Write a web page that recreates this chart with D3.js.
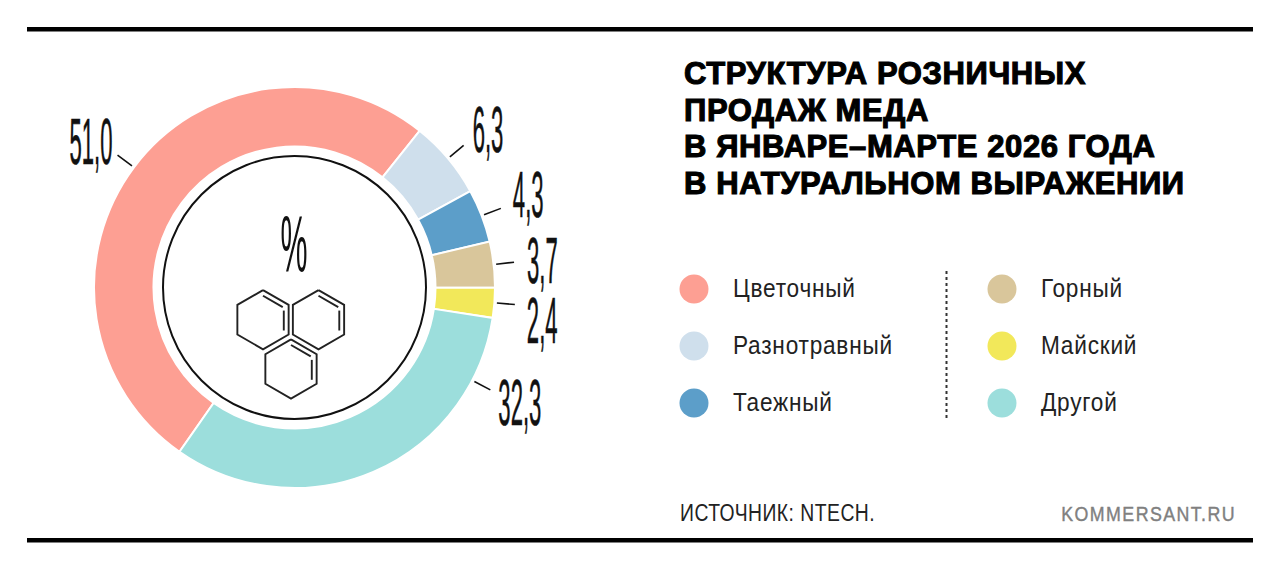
<!DOCTYPE html>
<html lang="ru">
<head>
<meta charset="utf-8">
<script src="https://cdn.jsdelivr.net/npm/d3@7"></script>
<style>
  html, body { margin: 0; padding: 0; background: #fff; }
  svg { display: block; }
  text { font-family: "Liberation Sans", sans-serif; }
</style>
</head>
<body>
<svg id="chart" width="1280" height="569"></svg>
<script>
var categories = ["Цветочный", "Разнотравный", "Таежный", "Горный", "Майский", "Другой"],
    shares = [51.0, 6.3, 4.3, 3.7, 2.4, 32.3],
    shareLabels = ["51,0", "6,3", "4,3", "3,7", "2,4", "32,3"],
    colors = ["#fd9f93", "#cfdfec", "#5c9ec9", "#d9c69b", "#f2e85a", "#9cdedc"];

var titleLines = ["СТРУКТУРА РОЗНИЧНЫХ", "ПРОДАЖ МЕДА", "В ЯНВАРЕ–МАРТЕ 2026 ГОДА", "В НАТУРАЛЬНОМ ВЫРАЖЕНИИ"];

var svg = d3.select("#chart");
var rad = (a) => a * Math.PI / 180;

// top and bottom rules
svg.selectAll("rect.rule")
  .data([27, 538])
  .enter()
  .append("rect")
  .attr("class", "rule")
  .attr("x", 27)
  .attr("y", (d) => d)
  .attr("width", 1226)
  .attr("height", 4.5)
  .attr("fill", "#000");

// donut
var cx = 294.5, cy = 287.5, rOuter = 200.5, rInner = 141, rCircle = 131.5;
var donut = svg.append("g").attr("transform", `translate(${cx},${cy})`);

var pie = d3.pie()
  .sort(null)
  .startAngle(rad(-145))
  .endAngle(rad(215))(shares);

var arc = d3.arc().innerRadius(rInner).outerRadius(rOuter);

donut.selectAll("path.slice")
  .data(pie)
  .enter()
  .append("path")
  .attr("class", "slice")
  .attr("d", arc)
  .attr("fill", (d, i) => colors[i])
  .attr("stroke", "#fff")
  .attr("stroke-width", 2);

donut.append("circle")
  .attr("r", rCircle)
  .attr("fill", "none")
  .attr("stroke", "#111")
  .attr("stroke-width", 2);

// leaders: radial at slice middle, the big teal slice has its leader moved up
var leaderAngle = (d, i) => i == 5 ? rad(117.6) : (d.startAngle + d.endAngle) / 2;
var polar = (a, r) => [r * Math.sin(a), -r * Math.cos(a)];

donut.selectAll("line.leader")
  .data(pie)
  .enter()
  .append("line")
  .attr("class", "leader")
  .attr("x1", (d, i) => polar(leaderAngle(d, i), 203)[0])
  .attr("y1", (d, i) => polar(leaderAngle(d, i), 203)[1])
  .attr("x2", (d, i) => polar(leaderAngle(d, i), 221)[0])
  .attr("y2", (d, i) => polar(leaderAngle(d, i), 221)[1])
  .attr("stroke", "#111")
  .attr("stroke-width", 1.6);

// tall condensed value labels, nudged off the leader ends
var labelShift = [[-5, 9], [9, 7], [12, 9], [13, 21], [12, 39], [8, 35]];

donut.selectAll("text.value")
  .data(pie)
  .enter()
  .append("text")
  .attr("class", "value")
  .attr("text-anchor", (d, i) => i == 0 ? "end" : "start")
  .attr("transform", function(d, i) {
    var p = polar(leaderAngle(d, i), 221);
    return `translate(${p[0] + labelShift[i][0]},${p[1] + labelShift[i][1]}) scale(0.34,1)`;
  })
  .attr("font-size", 65)
  .attr("fill", "#111")
  .attr("stroke", "#111")
  .attr("stroke-width", 0.6)
  .text((d, i) => shareLabels[i]);

// percent sign
svg.append("text")
  .attr("text-anchor", "middle")
  .attr("transform", "translate(294,272) scale(0.38,1)")
  .attr("font-size", 80)
  .attr("fill", "#111")
  .text("%");

// honeycomb icon
var cells = [[263, 319.7], [318.5, 319.7], [291, 369]];
var hexR = 29.6, hexInset = 24;
var hexLine = d3.line();
var corner = (c, r, k) => {
  var a = rad(60 * k);
  return [c[0] + r * Math.sin(a), c[1] - r * Math.cos(a)];
};
var along = (p, q, t) => [p[0] + (q[0] - p[0]) * t, p[1] + (q[1] - p[1]) * t];

var icon = svg.append("g")
  .attr("fill", "none")
  .attr("stroke", "#222")
  .attr("stroke-width", 1.9);

cells.forEach((c) => {
  var a = corner(c, hexInset, 0), b = corner(c, hexInset, 1), e = corner(c, hexInset, 2);
  icon.append("path")
    .attr("d", hexLine(d3.range(7).map((k) => corner(c, hexR, k))));
  icon.append("path").attr("d", hexLine([a, along(a, b, 0.95)]));
  icon.append("path").attr("d", hexLine([along(b, e, 0.12), along(b, e, 0.95)]));
});

// title
svg.append("g")
  .selectAll("text")
  .data(titleLines)
  .enter()
  .append("text")
  .attr("x", 684)
  .attr("y", (d, i) => 84 + i * 36.7)
  .attr("font-weight", 700)
  .attr("font-size", 31)
  .attr("letter-spacing", 0.6)
  .attr("fill", "#000")
  .attr("stroke", "#000")
  .attr("stroke-width", 1.1)
  .text((d) => d);

// legend, two columns of three
var legendX = d3.scaleOrdinal().domain([0, 1]).range([694, 1002]);
var legendY = d3.scalePoint().domain([0, 1, 2]).range([289, 403]);

var legend = svg.selectAll("g.legend")
  .data(categories)
  .enter()
  .append("g")
  .attr("class", "legend")
  .attr("transform", (d, i) => `translate(${legendX(Math.floor(i / 3))},${legendY(i % 3)})`);

legend.append("circle")
  .attr("r", 14.5)
  .attr("fill", (d, i) => colors[i]);

legend.append("text")
  .attr("transform", "translate(39,8) scale(0.87,1)")
  .attr("font-size", 26)
  .attr("letter-spacing", 0.9)
  .attr("fill", "#222")
  .text((d) => d);

svg.append("line")
  .attr("x1", 946.5)
  .attr("x2", 946.5)
  .attr("y1", 271)
  .attr("y2", 418)
  .attr("stroke", "#333")
  .attr("stroke-width", 2)
  .attr("stroke-dasharray", "3 3");

// footer
svg.append("text")
  .attr("transform", "translate(680,521) scale(0.79,1)")
  .attr("font-size", 24.5)
  .attr("letter-spacing", 0.6)
  .attr("fill", "#222")
  .text("ИСТОЧНИК: NTECH.");

svg.append("text")
  .attr("text-anchor", "end")
  .attr("transform", "translate(1236,520.5) scale(0.89,1)")
  .attr("font-size", 20)
  .attr("letter-spacing", 1.6)
  .attr("fill", "#808080")
  .attr("stroke", "#808080")
  .attr("stroke-width", 0.4)
  .text("KOMMERSANT.RU");
</script>
</body>
</html>
